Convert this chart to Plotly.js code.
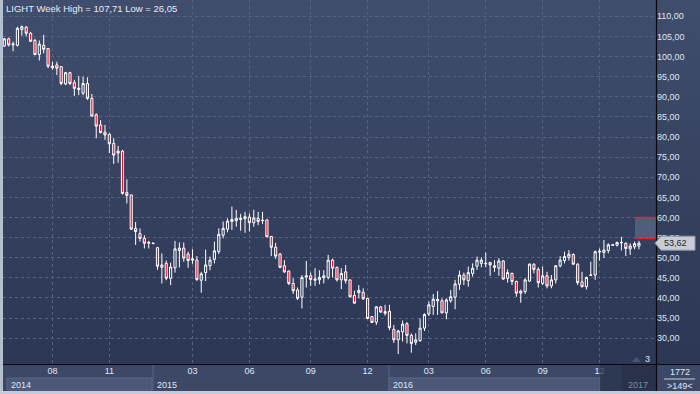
<!DOCTYPE html>
<html>
<head>
<meta charset="utf-8">
<script src="https://cdn.plot.ly/plotly-3.0.1.min.js"></script>
<style>
html,body{margin:0;padding:0;background:#2c3856;}
#chart{width:700px;height:394px;background:linear-gradient(to bottom,#404d6c 0px,#2b3754 364px,#3c4866 364px,#3c4866 394px);}
</style>
</head>
<body>
<div id="chart"></div>
<script>
// ---- data (weekly candles, LIGHT) ----
const weeks = [
'2014-05-17','2014-05-24','2014-05-31','2014-06-07','2014-06-14','2014-06-21','2014-06-28','2014-07-05','2014-07-12','2014-07-19',
'2014-07-26','2014-08-02','2014-08-09','2014-08-16','2014-08-23','2014-08-30','2014-09-06','2014-09-13','2014-09-20','2014-09-27',
'2014-10-04','2014-10-11','2014-10-18','2014-10-25','2014-11-01','2014-11-08','2014-11-15','2014-11-22','2014-11-29','2014-12-06',
'2014-12-13','2014-12-20','2014-12-27','2015-01-03','2015-01-10','2015-01-17','2015-01-24','2015-01-31','2015-02-07','2015-02-14',
'2015-02-21','2015-02-28','2015-03-07','2015-03-14','2015-03-21','2015-03-28','2015-04-04','2015-04-11','2015-04-18','2015-04-25',
'2015-05-02','2015-05-09','2015-05-16','2015-05-23','2015-05-30','2015-06-06','2015-06-13','2015-06-20','2015-06-27','2015-07-04',
'2015-07-11','2015-07-18','2015-07-25','2015-08-01','2015-08-08','2015-08-15','2015-08-22','2015-08-29','2015-09-05','2015-09-12',
'2015-09-19','2015-09-26','2015-10-03','2015-10-10','2015-10-17','2015-10-24','2015-10-31','2015-11-07','2015-11-14','2015-11-21',
'2015-11-28','2015-12-05','2015-12-12','2015-12-19','2015-12-26','2016-01-02','2016-01-09','2016-01-16','2016-01-23','2016-01-30',
'2016-02-06','2016-02-13','2016-02-20','2016-02-27','2016-03-05','2016-03-12','2016-03-19','2016-03-26','2016-04-02','2016-04-09',
'2016-04-16','2016-04-23','2016-04-30','2016-05-07','2016-05-14','2016-05-21','2016-05-28','2016-06-04','2016-06-11','2016-06-18',
'2016-06-25','2016-07-02','2016-07-09','2016-07-16','2016-07-23','2016-07-30','2016-08-06','2016-08-13','2016-08-20','2016-08-27',
'2016-09-03','2016-09-10','2016-09-17','2016-09-24','2016-10-01','2016-10-08','2016-10-15','2016-10-22','2016-10-29','2016-11-05',
'2016-11-12','2016-11-19','2016-11-26','2016-12-03','2016-12-10','2016-12-17','2016-12-24','2016-12-31','2017-01-07','2017-01-14',
'2017-01-21','2017-01-28','2017-02-04','2017-02-11','2017-02-18','2017-02-25'];

const openP = [
102.6,104.4,102.9,102.8,106.7,107.3,105.8,104.0,100.5,102.8,
102.0,97.2,97.9,97.5,93.2,96.0,93.5,91.8,90.9,93.3,
89.6,85.5,83.0,81.2,80.7,78.4,76.0,76.5,66.2,65.6,
57.3,56.0,54.8,53.6,53.5,52.5,47.6,48.6,44.9,47.5,
51.8,52.4,50.9,49.4,49.4,44.4,46.3,48.0,49.6,51.5,
55.6,57.1,59.0,59.2,59.5,59.7,60.1,58.7,59.8,59.2,
59.4,55.3,52.6,50.9,48.0,46.7,43.6,42.0,40.2,45.2,
45.5,44.4,44.5,45.0,45.1,49.4,47.6,44.5,46.5,44.5,
40.6,41.3,41.4,39.9,35.4,34.0,37.8,36.6,36.7,32.2,
29.6,31.6,33.6,30.7,29.0,29.4,32.5,36.0,37.9,39.3,
39.3,36.3,39.3,40.2,43.4,45.7,44.3,46.1,47.9,48.6,
48.5,48.8,47.6,47.4,49.2,44.9,46.1,44.1,41.2,41.6,
44.2,48.4,47.1,43.6,45.5,43.0,44.5,48.0,49.3,50.1,
50.8,48.4,44.0,42.8,45.6,45.7,51.4,51.3,51.8,53.1,
53.1,53.7,53.6,52.2,52.7,52.9];

const highP = [
104.6,104.7,103.7,107.4,107.71,107.6,106.1,104.4,104.0,105.4,
102.1,98.7,98.7,97.6,96.2,96.2,94.2,95.2,95.0,94.8,
90.7,85.9,84.2,83.0,80.9,79.7,77.8,76.8,69.5,65.7,
58.9,57.3,55.6,54.2,53.8,52.7,51.1,49.3,48.8,54.2,
53.8,53.8,51.5,52.1,50.4,46.5,52.0,50.3,54.0,57.3,
59.0,59.8,62.7,61.9,60.9,61.4,61.0,61.9,61.4,61.4,
59.5,55.4,53.7,51.2,49.4,46.8,44.9,42.6,45.7,49.2,
46.3,47.4,46.9,46.9,50.7,49.8,47.8,47.4,48.2,44.5,
41.8,43.2,42.4,40.1,35.4,38.0,38.0,38.3,38.3,33.3,
32.1,34.4,34.0,31.2,31.2,34.9,36.2,39.1,41.0,41.7,
39.9,39.9,42.0,44.5,46.8,46.3,47.8,48.6,50.3,50.1,
51.3,49.0,49.4,49.9,49.4,47.1,46.3,44.3,42.1,44.9,
48.6,48.6,47.6,47.8,46.5,45.7,48.2,50.4,51.5,51.9,
51.1,48.6,46.5,45.3,49.0,51.8,52.3,54.4,53.6,53.3,
54.0,55.2,53.8,53.6,54.0,54.2];

const lowP = [
102.4,102.5,101.3,102.5,105.2,105.0,103.6,100.3,99.0,100.8,
97.1,96.7,95.4,92.9,92.9,92.9,90.2,90.4,90.4,89.2,
85.1,79.7,80.9,79.3,76.0,73.3,73.6,65.7,63.5,56.9,
53.2,54.0,52.3,52.3,53.4,47.0,43.6,44.4,43.2,46.3,
47.6,49.0,47.5,48.5,44.2,41.3,44.2,46.9,48.6,50.9,
54.8,56.3,56.9,57.7,56.7,56.2,56.5,57.7,58.1,58.4,
55.1,50.4,49.7,47.4,46.2,43.2,41.0,39.5,37.4,42.6,
43.0,43.0,43.4,43.6,44.6,45.1,44.1,42.2,43.6,40.1,
38.6,39.9,39.5,34.7,33.8,33.3,36.3,35.6,32.0,28.8,
26.05,29.2,28.7,26.4,28.3,29.1,31.8,35.5,35.8,35.8,
36.2,34.7,38.8,37.2,42.0,43.2,42.8,45.3,47.0,47.6,
47.6,45.5,46.5,45.5,44.5,43.8,43.2,40.3,38.8,41.0,
44.0,46.1,42.6,43.2,42.4,42.4,43.6,47.6,48.6,49.3,
48.2,43.2,42.6,42.1,45.5,44.5,49.3,49.9,51.1,53.0,
52.8,51.8,50.4,50.7,52.1,52.1];

const closeP = [
104.4,102.9,103.1,107.0,107.4,105.8,103.8,100.5,103.1,101.8,
97.6,97.6,97.1,93.3,96.0,93.3,92.1,92.1,93.3,89.6,
85.2,82.7,81.1,80.5,78.3,75.5,76.5,66.0,65.5,57.1,
56.5,54.8,53.6,53.8,53.6,47.9,48.2,44.9,47.7,52.2,
52.4,49.9,49.3,49.7,44.6,46.0,48.2,49.4,51.7,55.8,
57.3,59.1,59.5,59.8,59.8,60.2,58.7,59.9,59.0,59.3,
55.2,52.6,50.4,47.6,46.5,43.6,41.8,39.9,45.1,45.5,
44.6,44.7,45.1,45.5,49.4,47.4,44.5,46.1,44.3,40.3,
38.7,41.9,39.8,34.9,33.9,37.8,36.5,36.2,32.6,29.6,
31.8,33.5,30.7,28.7,29.6,32.5,35.9,38.3,39.7,39.6,
36.3,39.5,40.3,43.5,45.7,44.5,46.3,47.4,49.4,49.4,
48.6,48.2,48.0,49.2,44.7,46.3,44.1,41.2,41.7,44.5,
48.4,47.1,43.8,45.5,43.0,44.5,48.0,49.4,50.3,50.9,
48.4,43.8,42.8,45.1,45.7,51.5,51.6,51.9,53.2,53.2,
53.8,53.8,52.3,52.9,53.5,53.62];

const monthTickWeeks = ['2014-08-02','2014-11-01','2015-03-14','2015-06-13','2015-09-19','2015-12-19','2016-03-26','2016-06-25','2016-09-24','2016-12-24'];
const monthTickText  = ['08','11','03','06','09','12','03','06','09','12'];
const priceTicks = [30,35,40,45,50,55,60,65,70,75,80,85,90,95,100,105,110];
const titleText = 'LIGHT Week High = 107,71 Low = 26,05';
const lastCloseText = '53,62';
const targetHigh = 60.0, targetLow = 54.8;
const barsCount = '1772', barsVisible = '>149<', markerCount = '3';

// ---- layout helpers (pixel -> paper) ----
const L = 3, R = 44, T = 0, B = 30, W = 700, H = 394;
const PW = W - L - R, PH = H - T - B;
const PX = x => (x - L) / PW;
const PY = y => 1 - (y - T) / PH;
const yMin = 23.59, yMax = 114.05;
const pxPerUnit = PH / (yMax - yMin);

const font = 'Liberation Sans, Arial, sans-serif';
const txt = '#dfe7f5';

const trace = {
  type: 'candlestick',
  x: weeks, open: openP, high: highP, low: lowP, close: closeP,
  increasing: {line: {color: '#ffffff', width: 1}, fillcolor: 'rgba(0,0,0,0)'},
  decreasing: {line: {color: '#ffffff', width: 1}, fillcolor: '#e3132f'},
  whiskerwidth: 0,
  hoverinfo: 'skip',
  showlegend: false
};

const lastC = closeP[closeP.length - 1];
const hh = 7 / pxPerUnit;

const shapes = [
  // red target zone
  {type:'rect', xref:'paper', yref:'y', x0:PX(635), x1:PX(656), y0:targetLow, y1:targetHigh, fillcolor:'rgba(125,140,170,0.40)', line:{width:0}, layer:'above'},
  {type:'line', xref:'paper', yref:'y', x0:PX(635), x1:PX(656), y0:targetHigh, y1:targetHigh, line:{color:'#e3202c', width:1.5}, layer:'above'},
  {type:'line', xref:'paper', yref:'y', x0:PX(635), x1:PX(656), y0:targetLow, y1:targetLow, line:{color:'#e3202c', width:1.5}, layer:'above'},
  // year boxes in bottom band
  {type:'rect', xref:'paper', yref:'paper', x0:PX(7), x1:PX(152), y0:PY(390), y1:PY(378), fillcolor:'#4b5877', line:{color:'#5a6786', width:1}, layer:'below'},
  {type:'rect', xref:'paper', yref:'paper', x0:PX(389), x1:PX(600), y0:PY(390), y1:PY(378), fillcolor:'#4b5877', line:{color:'#5a6786', width:1}, layer:'below'},
  {type:'line', xref:'paper', yref:'paper', x0:PX(153), x1:PX(153), y0:PY(391), y1:PY(365), line:{color:'#56637f', width:1}, layer:'below'},
  {type:'line', xref:'paper', yref:'paper', x0:PX(389), x1:PX(389), y0:PY(391), y1:PY(365), line:{color:'#56637f', width:1}, layer:'below'},
  // dark overlay at right of bottom band
  {type:'rect', xref:'paper', yref:'paper', x0:PX(600), x1:PX(622), y0:PY(391), y1:PY(365), fillcolor:'rgba(40,50,75,0.72)', line:{width:0}, layer:'above'},
  {type:'rect', xref:'paper', yref:'paper', x0:PX(622), x1:PX(656), y0:PY(391), y1:PY(365), fillcolor:'rgba(36,45,68,0.80)', line:{color:'#2a3450', width:1}, layer:'above'},
  // frame lines
  {type:'line', xref:'paper', yref:'paper', x0:PX(656.5), x1:PX(656.5), y0:PY(394), y1:PY(0), line:{color:'#07090f', width:1.2}, layer:'above'},
  {type:'line', xref:'paper', yref:'paper', x0:PX(3), x1:PX(700), y0:PY(364.5), y1:PY(364.5), line:{color:'#07090f', width:1.2}, layer:'above'},
  {type:'rect', xref:'paper', yref:'paper', x0:PX(0), x1:PX(3), y0:PY(394), y1:PY(0), fillcolor:'#b4bfcf', line:{width:0}, layer:'above'},
  {type:'rect', xref:'paper', yref:'paper', x0:PX(0), x1:PX(700), y0:PY(394), y1:PY(391), fillcolor:'#c4cbd7', line:{width:0}, layer:'above'},
  // corner separator
  {type:'line', xref:'paper', yref:'paper', x0:PX(664), x1:PX(695), y0:PY(379), y1:PY(379), line:{color:'#c9d1dd', width:1}, layer:'above'},
  // marker triangle
  {type:'path', xref:'paper', yref:'paper', path:`M ${PX(632)} ${PY(362)} L ${PX(641)} ${PY(362)} L ${PX(636.5)} ${PY(357)} Z`, fillcolor:'#4b5672', line:{width:0}, layer:'above'},
  // last price tag
  {type:'path', xref:'paper', yref:'y', path:`M ${PX(655)} ${lastC} L ${PX(661)} ${lastC+hh} L ${PX(695)} ${lastC+hh} L ${PX(695)} ${lastC-hh} L ${PX(661)} ${lastC-hh} Z`, fillcolor:'#c8ccd4', line:{color:'#8e96a4', width:1}, layer:'above'}
];

function ann(text, x, y, opts) {
  return Object.assign({text:text, xref:'paper', yref:'paper', x:PX(x), y:PY(y), showarrow:false, xanchor:'left', yanchor:'middle', font:{family:font, size:9, color:txt}}, opts || {});
}

const annotations = [
  ann(titleText, 4, 8, {font:{family:font, size:9.5, color:'#e6ecf6'}}),
  ann('2014', 9, 384.5),
  ann('2015', 155, 384.5),
  ann('2016', 391, 384.5),
  ann('2017', 626, 384.5, {font:{family:font, size:9, color:'#7f8ca5'}}),
  ann(barsCount, 680, 372, {xanchor:'center'}),
  ann(barsVisible, 680, 386, {xanchor:'center'}),
  ann(markerCount, 643, 359),
  {text:lastCloseText, xref:'paper', yref:'y', x:PX(662), y:lastC, showarrow:false, xanchor:'left', yanchor:'middle', font:{family:font, size:9, color:'#1f2430'}}
];

const layout = {
  width: W, height: H,
  margin: {l:L, r:R, t:T, b:B, pad:0},
  paper_bgcolor: 'rgba(0,0,0,0)',
  plot_bgcolor: 'rgba(0,0,0,0)',
  separators: ', ',
  showlegend: false,
  font: {family: font, size: 9, color: txt},
  xaxis: {
    type: 'category',
    range: [-0.3, 148.9],
    rangeslider: {visible: false},
    tickmode: 'array', tickvals: monthTickWeeks, ticktext: monthTickText,
    ticks: '', showline: false, zeroline: false,
    showgrid: true, gridcolor: '#56637f', griddash: '3px,3px', gridwidth: 1,
    tickfont: {family: font, size: 9, color: txt},
    automargin: false, fixedrange: true
  },
  yaxis: {
    side: 'right',
    range: [yMin, yMax],
    tickmode: 'array', tickvals: priceTicks,
    tickformat: '.2f',
    ticks: '', showline: false, zeroline: false,
    showgrid: true, gridcolor: '#56637f', griddash: '3px,3px', gridwidth: 1,
    tickfont: {family: font, size: 9, color: txt},
    automargin: false, fixedrange: true
  },
  shapes: shapes,
  annotations: annotations
};

Plotly.newPlot('chart', [trace], layout, {staticPlot: true, displayModeBar: false});
</script>
</body>
</html>
